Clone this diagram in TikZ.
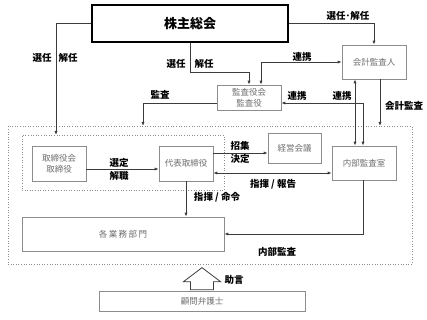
\documentclass[tikz,border=0pt]{standalone}
\usepackage{fontspec}
\setmainfont{Noto Sans CJK JP}
\usepackage{tikz}
\usetikzlibrary{arrows.meta}

\definecolor{linegray}{HTML}{3C3C3C}
\definecolor{boxgray}{HTML}{8C8C8C}
\definecolor{textgray}{HTML}{6E6E6E}

\begin{document}
\begin{tikzpicture}[x=1pt, y=-1pt,
    % --- 样式定义 ---
    unitbox/.style={draw=boxgray, line width=0.7pt, fill=white, text=textgray,
        font=\fontsize{8.5}{11}\selectfont, align=center, inner sep=0pt},
    groupbox/.style={draw=boxgray, dotted, line width=0.6pt, inner sep=0pt},
    arr/.style={draw=linegray, line width=0.8pt, -{Latex[length=4pt,width=3.2pt]}},
    arrboth/.style={draw=linegray, line width=0.8pt,
        {Latex[length=4pt,width=3.2pt]}-{Latex[length=4pt,width=3.2pt]}},
    lbl/.style={font=\fontsize{9.5}{11}\selectfont\bfseries, inner sep=0pt}
]
    \useasboundingbox (0,0) rectangle (427,320);

    % =========================================
    % 【框】
    % =========================================
    \node[groupbox, minimum width=404pt, minimum height=138pt] (outer) at (210,195) {};
    \node[groupbox, minimum width=202pt, minimum height=55pt]  (inner) at (123,162.5) {};

    \node[draw=black, line width=1.4pt, minimum width=196pt, minimum height=37pt,
          font=\fontsize{13}{15}\selectfont\bfseries] (agm) at (190,23.5) {株主総会};
    \node[unitbox, minimum width=64pt, minimum height=34pt] (auditor) at (374,62)    {会計監査人};
    \node[unitbox, minimum width=64pt, minimum height=25pt] (kansa)   at (249,97.5)  {監査役会\\監査役};
    \node[unitbox, minimum width=54pt, minimum height=35pt] (board)   at (59,163.5)  {取締役会\\取締役};
    \node[unitbox, minimum width=54pt, minimum height=35pt] (ceo)     at (186,163.5) {代表取締役};
    \node[unitbox, minimum width=53pt, minimum height=30pt] (keiei)   at (294.5,148) {経営会議};
    \node[unitbox, minimum width=64pt, minimum height=34pt] (naibu)   at (364,163)   {内部監査室};
    \node[unitbox, minimum width=202pt, minimum height=34pt] (dept)   at (123,234)   {各\,業\,務\,部\,門};
    \node[unitbox, minimum width=206pt, minimum height=20pt] (lawyer) at (202,301)   {顧問弁護士};

    % --- 坐标 ---
    \coordinate (sel_L) at (56,135);
    \coordinate (sel_M) at (249,72);
    \coordinate (aud_in) at (143,126);
    \coordinate (acc_in) at (380,126);

    % =========================================
    % 【连线】
    % =========================================
    \draw[arr] (agm.west) -| (sel_L);
    \draw[arr] (agm.south) |- (sel_M) -- (kansa.north);
    \draw[arr] (agm.east) -| (auditor.north);

    \draw[arrboth] (auditor.west) -| ([xshift=12pt]kansa.north);
    \draw[arr] ([yshift=-5.5pt]kansa.west) -| (aud_in);
    \draw[arrboth] ([yshift=-5.5pt]kansa.east) -| ([xshift=-1pt]naibu.north);
    \draw[arrboth] ([xshift=-19pt]auditor.south) -- ([xshift=-9pt]naibu.north);
    \draw[arr] ([xshift=6pt]auditor.south) -- (acc_in);

    \draw[arr] ([yshift=-5.5pt]board.east) -- ([yshift=-5.5pt]ceo.west);
    \draw[arr] ([yshift=10.5pt]ceo.east) -- ([yshift=10.5pt]ceo.east -| keiei.west);
    \draw[arrboth] ([yshift=-9.5pt]ceo.east) -- ([yshift=-9.5pt]ceo.east -| naibu.west);
    \draw[arr] (ceo.south) -- (ceo.south |- dept.north);
    \draw[arr] ([xshift=-1pt]naibu.south) |- (dept.east);

    % 助言 (空心箭头)
    \draw[draw=linegray, line width=0.8pt, fill=white]
        ([xshift=-11.5pt,yshift=1pt]lawyer.north) -- ++(0,-8) -- ++(-7,0)
        -- ++(18.5,-14) -- ++(18.5,14) -- ++(-7,0) -- ++(0,8) -- cycle;

    % =========================================
    % 【标签】
    % =========================================
    \node[lbl] (l_sel1)  at (42,58)   {選任};
    \node[lbl] (l_dis1)  at (68,58)   {解任};
    \node[lbl] (l_sel2)  at (176,64)  {選任};
    \node[lbl] (l_dis2)  at (204,64)  {解任};
    \node[lbl] (l_seldis) at (348,16) {選任･解任};
    \node[lbl] (l_coop1) at (302,57)  {連携};
    \node[lbl] (l_audit) at (160,95)  {監査};
    \node[lbl] (l_coop2) at (297,96)  {連携};
    \node[lbl] (l_coop3) at (342,96)  {連携};
    \node[lbl] (l_acc)   at (404,106) {会計監査};
    \node[lbl] (l_pick)  at (119,163) {選定};
    \node[lbl] (l_fire)  at (119,176) {解職};
    \node[lbl] (l_call)  at (240,146) {招集};
    \node[lbl] (l_dec)   at (240,159) {決定};
    \node[lbl] (l_rep)   at (273,184) {指揮 / 報告};
    \node[lbl] (l_cmd)   at (217,197) {指揮 / 命令};
    \node[lbl] (l_int)   at (277,252) {内部監査};
    \node[lbl] (l_adv)   at (234,280) {助言};

\end{tikzpicture}
\end{document}
